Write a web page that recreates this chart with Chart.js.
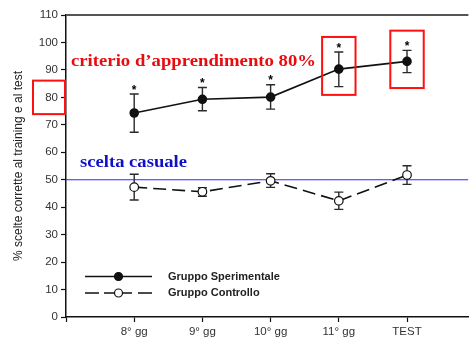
<!DOCTYPE html>
<html>
<head>
<meta charset="utf-8">
<script src="https://cdn.jsdelivr.net/npm/chart.js@4"></script>
<style>
  html, body { margin: 0; padding: 0; background: #fff; overflow: hidden; }
  #wrap { width: 474px; height: 340px; }
</style>
</head>
<body>
<div id="wrap"><canvas id="c" width="474" height="340"></canvas></div>
<script>
// Sessions and their position on the x axis
const categories = ['8° gg', '9° gg', '10° gg', '11° gg', 'TEST'];
const sessionIndex = [1, 2, 3, 4, 5];

// Experimental group: mean and error bar limits (% correct choices)
const sperimentale = [74.3, 79.3, 80.1, 90.3, 93.1];
const sperimentaleUpper = [81.2, 83.6, 84.6, 96.5, 97.1];
const sperimentaleLower = [67.3, 75.1, 75.7, 83.9, 89.0];

// Control group: mean and error bar limits
const controllo = [47.3, 45.6, 49.6, 42.3, 51.7];
const controlloUpper = [52.0, 47.1, 52.2, 45.5, 55.1];
const controlloLower = [42.6, 44.0, 47.2, 39.2, 48.3];

// Sessions marked as significant (asterisk over the experimental group)
const significativo = [true, true, true, true, true];

// Reference levels
const sceltaCasuale = 50;
const criterio = 80;

// Highlighted sessions (index into categories) and the value range boxed
const evidenziati = [3, 4];
const boxTop = [102.0, 104.3];
const boxBottom = [80.9, 83.4];

const yTicks = [0, 10, 20, 30, 40, 50, 60, 70, 80, 90, 100, 110];
const xMax = 5.9;

const toPoints = (xs, ys) => xs.map((x, i) => ({ x: x, y: ys[i] }));

const INK = '#111';

const errorBars = {
  id: 'errorBars',
  beforeDatasetsDraw(chart) {
    const { ctx, scales: { x, y } } = chart;
    ctx.save();
    ctx.strokeStyle = '#2a2a2a';
    ctx.lineWidth = 1.4;
    const cap = 4.5;
    const draw = (up, lo) => {
      sessionIndex.forEach((s, i) => {
        const px = x.getPixelForValue(s);
        const yt = y.getPixelForValue(up[i]);
        const yb = y.getPixelForValue(lo[i]);
        ctx.beginPath();
        ctx.moveTo(px, yt); ctx.lineTo(px, yb);
        ctx.moveTo(px - cap, yt); ctx.lineTo(px + cap, yt);
        ctx.moveTo(px - cap, yb); ctx.lineTo(px + cap, yb);
        ctx.stroke();
      });
    };
    draw(sperimentaleUpper, sperimentaleLower);
    draw(controlloUpper, controlloLower);
    ctx.restore();
  }
};

function fitText(ctx, text, x, yBase, width) {
  const w = ctx.measureText(text).width;
  ctx.save();
  ctx.translate(x, yBase);
  ctx.scale(width / w, 1);
  ctx.fillText(text, 0, 0);
  ctx.restore();
}

const decorations = {
  id: 'decorations',
  afterDatasetsDraw(chart) {
    const { ctx, chartArea: a, scales: { x, y } } = chart;
    ctx.save();

    // frame line along the top of the plot
    ctx.strokeStyle = '#555';
    ctx.lineWidth = 2;
    ctx.beginPath();
    ctx.moveTo(a.left, a.top);
    ctx.lineTo(a.right, a.top);
    ctx.stroke();

    // significance asterisks
    ctx.fillStyle = '#000';
    ctx.font = 'bold 12px "Liberation Sans", Arial, sans-serif';
    ctx.textAlign = 'center';
    ctx.textBaseline = 'alphabetic';
    sessionIndex.forEach((s, i) => {
      if (!significativo[i]) return;
      ctx.fillText('*', x.getPixelForValue(s), y.getPixelForValue(sperimentaleUpper[i]) - 0.5);
    });

    // red boxes around highlighted sessions
    ctx.strokeStyle = '#ff1010';
    ctx.lineWidth = 2;
    evidenziati.forEach((idx, k) => {
      const x0 = x.getPixelForValue(sessionIndex[idx] - 0.245);
      const x1 = x.getPixelForValue(sessionIndex[idx] + 0.245);
      const y0 = y.getPixelForValue(boxTop[k]);
      const y1 = y.getPixelForValue(boxBottom[k]);
      ctx.strokeRect(x0, y0, x1 - x0, y1 - y0);
    });
    // red box around the criterion tick label
    const cy0 = y.getPixelForValue(criterio + 6.1);
    const cy1 = y.getPixelForValue(criterio - 6.1);
    ctx.strokeRect(33, cy0, a.left - 34, cy1 - cy0);

    // annotation texts
    ctx.textAlign = 'left';
    ctx.textBaseline = 'alphabetic';
    ctx.font = 'bold 17px "Liberation Serif", "Times New Roman", serif';
    ctx.fillStyle = '#e80c10';
    fitText(ctx, 'criterio d\u2019apprendimento 80%', a.left + 5, y.getPixelForValue(91.3), 245);
    ctx.fillStyle = '#1010c4';
    fitText(ctx, 'scelta casuale', a.left + 14, y.getPixelForValue(54.7), 107);

    // legend
    const items = [
      { label: 'Gruppo Sperimentale', dash: false, fill: INK, yPix: 276.5 },
      { label: 'Gruppo Controllo', dash: true, fill: '#fff', yPix: 293 }
    ];
    items.forEach(it => {
      ctx.strokeStyle = INK;
      ctx.lineWidth = 1.5;
      ctx.beginPath();
      if (it.dash) {
        ctx.moveTo(85, it.yPix); ctx.lineTo(99, it.yPix);
        ctx.moveTo(104, it.yPix); ctx.lineTo(132, it.yPix);
        ctx.moveTo(138, it.yPix); ctx.lineTo(152, it.yPix);
      } else {
        ctx.moveTo(85, it.yPix); ctx.lineTo(152, it.yPix);
      }
      ctx.stroke();
      ctx.beginPath();
      ctx.arc(118.5, it.yPix, 4, 0, Math.PI * 2);
      ctx.fillStyle = it.fill;
      ctx.fill();
      ctx.lineWidth = 1.2;
      ctx.stroke();
      ctx.fillStyle = '#222';
      ctx.font = 'bold 11px "Liberation Sans", Arial, sans-serif';
      ctx.textBaseline = 'middle';
      ctx.fillText(it.label, 168, it.yPix);
    });

    ctx.restore();
  }
};

new Chart(document.getElementById('c'), {
  type: 'line',
  data: {
    datasets: [
      {
        label: 'Gruppo Sperimentale',
        data: toPoints(sessionIndex, sperimentale),
        borderColor: INK,
        borderWidth: 1.6,
        pointRadius: 4,
        pointBackgroundColor: INK,
        pointBorderColor: INK,
        order: 0
      },
      {
        label: 'Gruppo Controllo',
        data: toPoints(sessionIndex, controllo),
        borderColor: INK,
        borderWidth: 1.6,
        borderDash: [13, 6],
        pointRadius: 4.3,
        pointBorderWidth: 1.2,
        pointBackgroundColor: '#fff',
        pointBorderColor: INK,
        order: 0
      },
      {
        label: 'scelta casuale',
        data: [{ x: 0, y: sceltaCasuale }, { x: xMax, y: sceltaCasuale }],
        borderColor: '#2a2aff',
        borderWidth: 1.2,
        pointRadius: 0,
        order: 2
      }
    ]
  },
  options: {
    responsive: false,
    animation: false,
    layout: { padding: { top: 15, left: 0, right: 0, bottom: 0 } },
    plugins: { legend: { display: false }, tooltip: { enabled: false } },
    scales: {
      x: {
        type: 'linear',
        min: 0,
        max: xMax,
        afterBuildTicks: s => { s.ticks = [0].concat(sessionIndex).map(v => ({ value: v })); },
        afterFit: s => { s.height = 23; },
        grid: { drawOnChartArea: false, drawTicks: true, tickLength: 5, tickColor: INK, tickWidth: 1.2 },
        border: { display: true, color: INK, width: 1.5 },
        ticks: {
          autoSkip: false,
          maxRotation: 0,
          padding: 3,
          color: '#333',
          font: { family: '"Liberation Sans", Arial, sans-serif', size: 11.5 },
          callback: v => { const i = sessionIndex.indexOf(v); return i >= 0 ? categories[i] : ''; }
        }
      },
      y: {
        min: 0,
        max: 110,
        afterBuildTicks: s => { s.ticks = yTicks.map(v => ({ value: v })); },
        afterFit: s => { s.width = 66; },
        grid: { drawOnChartArea: false, drawTicks: true, tickLength: 5, tickColor: INK, tickWidth: 1.2 },
        border: { display: true, color: INK, width: 1.5 },
        ticks: {
          padding: 3,
          color: '#333',
          font: { family: '"Liberation Sans", Arial, sans-serif', size: 11.5 }
        },
        title: {
          display: true,
          text: '% scelte corrette al training e al test',
          color: '#222',
          font: { family: '"Liberation Sans", Arial, sans-serif', size: 12 },
          padding: { top: 11, bottom: 0 }
        }
      }
    }
  },
  plugins: [errorBars, decorations]
});
</script>
</body>
</html>
